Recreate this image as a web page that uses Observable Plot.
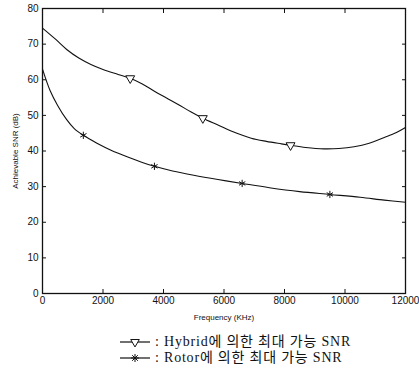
<!DOCTYPE html>
<html><head><meta charset="utf-8">
<script src="https://cdn.jsdelivr.net/npm/d3@7"></script>
<script src="https://cdn.jsdelivr.net/npm/@observablehq/plot@0.6"></script>
<style>
body{margin:0;background:#fff;}
#legend{font-family:"Liberation Serif","Noto Sans CJK KR",serif;font-size:14px;letter-spacing:0.8px;color:#111;margin-left:118px;margin-top:9px;line-height:16px;}
#legend div{display:flex;align-items:center;}
#legend svg{margin-right:3px;}
</style></head><body>
<div id="chart"></div>
<div id="legend"></div>
<script>
const hybridFreq = [0,400,800,1200,1600,2000,2500,2900,3300,3700,4100,4500,4900,5300,5800,6300,6900,7400,7900,8200,8700,9300,9800,10300,10800,11300,11700,12000];
const hybridSNR  = [74.5,71.6,68.5,66.1,64.3,62.9,61.5,60.4,58.8,56.8,54.9,53,51,49.2,47.3,45.4,43.6,42.7,42,41.6,41,40.6,40.7,41.2,42.2,43.8,45.2,46.6];
const hybridMarkFreq = [2900,5300,8200];
const hybridMarkSNR  = [60.4,49.2,41.6];
const rotorFreq = [0,250,500,800,1050,1350,1800,2300,2800,3300,3700,4300,5000,5800,6600,7500,8500,9500,10500,11300,12000];
const rotorSNR  = [63,57,52.8,48.8,46.3,44.4,42.2,40.1,38.4,36.8,35.7,34.4,33.2,32,30.9,29.7,28.6,27.8,27,26.2,25.6];
const rotorMarkFreq = [1350,3700,6600,9500];
const rotorMarkSNR  = [44.4,35.7,30.9,27.8];
const xTicks = [0,2000,4000,6000,8000,10000,12000];
const yTicks = [0,10,20,30,40,50,60,70,80];
const legendLabels = [": Hybrid에 의한 최대 가능 SNR", ": Rotor에 의한 최대 가능 SNR"];

const zip = (xs, ys) => xs.map((x,i)=>({x, y: ys[i]}));
const hybrid = zip(hybridFreq, hybridSNR), rotor = zip(rotorFreq, rotorSNR);
const hm = zip(hybridMarkFreq, hybridMarkSNR), rm = zip(rotorMarkFreq, rotorMarkSNR);

const chart = Plot.plot({
  width: 419, height: 325,
  marginLeft: 42, marginRight: 14, marginTop: 8, marginBottom: 32,
  style: {fontFamily: "Liberation Sans, Arial, sans-serif", fontSize: "10px", color: "#111"},
  x: {domain: [0,12000]},
  y: {domain: [0,80]},
  marks: [
    Plot.axisY({ticks: yTicks, tickSize: 0, tickPadding: 4, label: "Achievable SNR (dB)", labelAnchor: "center", labelArrow: "none", labelOffset: 30, fontSize: 10}),
    Plot.axisY({ticks: yTicks, tickSize: -4, tickFormat: () => "", label: null}),
    Plot.axisY({ticks: yTicks, anchor: "right", tickSize: -4, tickFormat: () => "", label: null}),
    Plot.axisX({ticks: xTicks, tickSize: 0, tickPadding: 3, tickFormat: d => String(d), label: "Frequency (KHz)", labelAnchor: "center", labelArrow: "none", labelOffset: 26, fontSize: 10}),
    Plot.axisX({ticks: xTicks, tickSize: -4, tickFormat: () => "", label: null}),
    Plot.axisX({ticks: xTicks, anchor: "top", tickSize: -4, tickFormat: () => "", label: null}),
    Plot.frame({stroke: "#111", strokeWidth: 1.3}),
    Plot.line(hybrid, {x: "x", y: "y", curve: "catmull-rom", stroke: "#111", strokeWidth: 1.1}),
    Plot.line(rotor, {x: "x", y: "y", curve: "catmull-rom", stroke: "#111", strokeWidth: 1.1}),
    Plot.dot(hm, {x: "x", y: "y", symbol: "triangle", rotate: 180, r: 3.3, fill: "white", stroke: "#111", strokeWidth: 1}),
    Plot.dot(rm, {x: "x", y: "y", symbol: "asterisk", r: 3.4, stroke: "#111", strokeWidth: 1})
  ]
});
chart.querySelectorAll('[aria-label="y-axis label"] text, [aria-label="x-axis label"] text').forEach(t=>{t.setAttribute("font-size","8");});
document.getElementById("chart").append(chart);

// legend
const leg = document.getElementById("legend");
legendLabels.forEach((lab,i)=>{
  const row = document.createElement("div");
  const s = d3.create("svg").attr("width",34).attr("height",14);
  s.append("line").attr("x1",2).attr("x2",32).attr("y1",7).attr("y2",7).attr("stroke","#111").attr("stroke-width",1.2);
  if (i===0) {
    s.append("path").attr("d", d3.symbol(d3.symbolTriangle, 32)()).attr("transform","translate(17,7) rotate(180)").attr("fill","white").attr("stroke","#111");
  } else {
    const a = 4;
    s.append("path").attr("d", `M${17-a},7H${17+a}M17,${7-a}V${7+a}M${17-a*0.7},${7-a*0.7}L${17+a*0.7},${7+a*0.7}M${17-a*0.7},${7+a*0.7}L${17+a*0.7},${7-a*0.7}`).attr("fill","none").attr("stroke","#111");
  }
  row.append(s.node());
  const sp = document.createElement("span"); sp.textContent = lab; row.append(sp);
  leg.append(row);
});
</script>
</body></html>
